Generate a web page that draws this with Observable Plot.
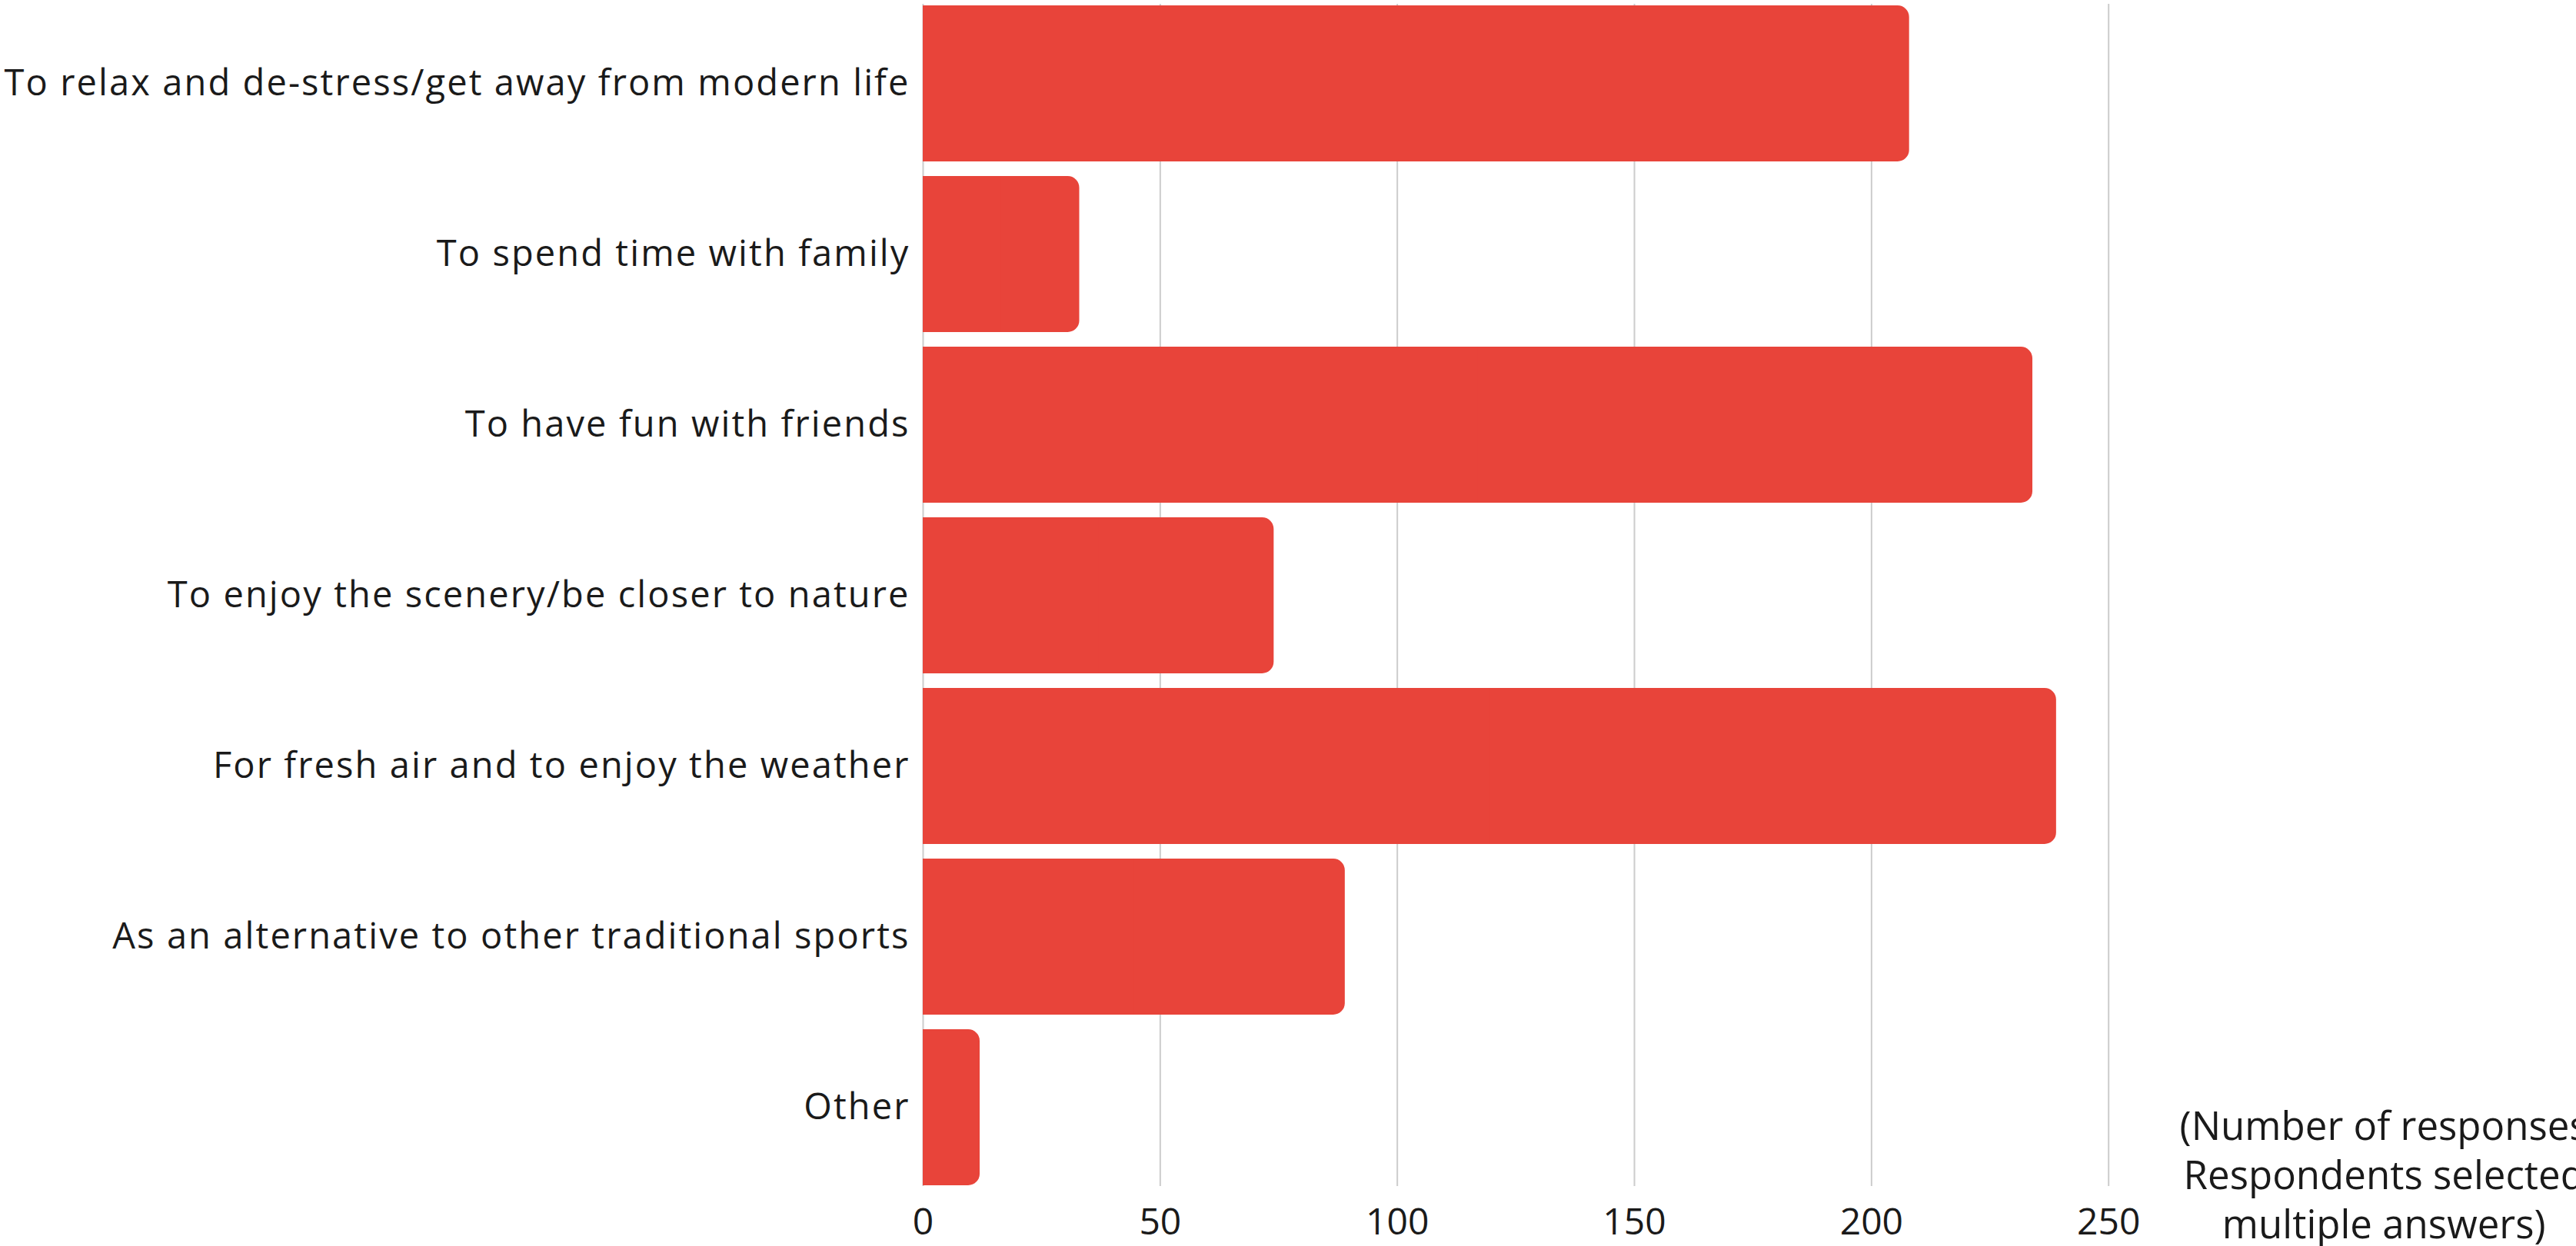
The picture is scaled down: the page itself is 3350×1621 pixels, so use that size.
<!DOCTYPE html>
<html><head><meta charset="utf-8">
<script src="https://cdn.jsdelivr.net/npm/d3@7"></script>
<script src="https://cdn.jsdelivr.net/npm/@observablehq/plot@0.6"></script>
<style>
html,body{margin:0;padding:0;background:#fff;overflow:hidden;}
#chart svg g[aria-label="y-axis tick label"] text{letter-spacing:2.1px;}
</style>
</head><body><div id="chart"></div>
<script>
const categories = [
  "To relax and de-stress/get away from modern life",
  "To spend time with family",
  "To have fun with friends",
  "To enjoy the scenery/be closer to nature",
  "For fresh air and to enjoy the weather",
  "As an alternative to other traditional sports",
  "Other"
];
const values = [208, 33, 234, 74, 239, 89, 12];
const xTicks = [0, 50, 100, 150, 200, 250];
const captionLines = ["(Number of responses", "Respondents selected", "multiple answers)"];

const data = categories.map((c, i) => ({category: c, value: values[i]}));
const barColor = "#E8443A";

const plot = Plot.plot({
  width: 3350, height: 1621,
  marginLeft: 1200, marginRight: 608.3, marginTop: 5, marginBottom: 78,
  style: {fontFamily: "'Open Sans', sans-serif", background: "#fff", color: "#1a1a1a"},
  x: {domain: [0, 250]},
  y: {domain: categories, paddingInner: 0.0876, paddingOuter: 0},
  marks: [
    Plot.ruleX(xTicks, {stroke: "#cccccc", strokeWidth: 2}),
    Plot.barX(data, {x: "value", y: "category", fill: barColor, rx: 15}),
    Plot.barX(data, {x1: d => 0, x2: d => d.value / 2, y: "category", fill: barColor}),
    Plot.axisX({ticks: xTicks, tickSize: 0, tickPadding: 28, fontSize: 48, label: null}),
    Plot.axisY({tickSize: 0, tickPadding: 17, fontSize: 47, label: null}),
    Plot.text([captionLines.join("\n")], {
      text: d => d, frameAnchor: "bottom-right", dx: 358, dy: -106,
      lineAnchor: "top", textAnchor: "middle", fontSize: 51, lineHeight: 1.255, fill: "#1a1a1a"
    })
  ]
});
document.getElementById("chart").append(plot);
</script>
</body></html>
